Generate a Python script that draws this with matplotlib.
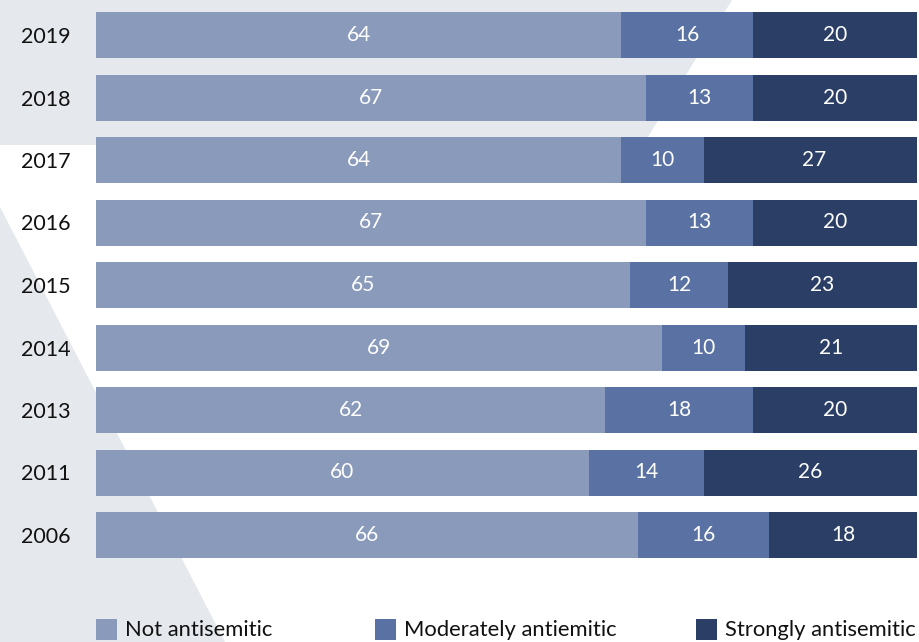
import matplotlib
matplotlib.use("Agg")
import matplotlib.pyplot as plt
from matplotlib.patches import Polygon, Rectangle
import numpy as np

plt.rcParams['font.family'] = ['Lato', 'DejaVu Sans']

years = ['2019', '2018', '2017', '2016', '2015', '2014', '2013', '2011', '2006']
not_anti = [64, 67, 64, 67, 65, 69, 62, 60, 66]
moderate = [16, 13, 10, 13, 12, 10, 18, 14, 16]
strong = [20, 20, 27, 20, 23, 21, 20, 26, 18]

labels = ['Not antisemitic', 'Moderately antiemitic', 'Strongly antisemitic']
colors = ['#8A9ABB', '#5A72A3', '#2B3F66']
bg_gray = '#E5E9ED'

W, H = 919, 642
fig = plt.figure(figsize=(W / 100, H / 100), dpi=100)
fig.patch.set_facecolor('white')


def px(x, y):
    # pixel coords from the top-left corner -> figure fraction
    return (x / W, 1 - y / H)


# light grey decorative shapes behind the chart
band = Polygon([px(0, 0), px(732, 0), px(643, 145), px(0, 145)],
               closed=True, transform=fig.transFigure, facecolor=bg_gray,
               edgecolor='none', zorder=-2)
wedge = Polygon([px(0, 207), px(225, 642), px(0, 642)],
                closed=True, transform=fig.transFigure, facecolor=bg_gray,
                edgecolor='none', zorder=-2)
fig.patches.extend([band, wedge])

# axes: bars span x 96..917 px, y 12..558 px
ax = fig.add_axes([96 / W, (H - 558) / H, 821 / W, 546 / H])
ax.set_facecolor('none')

bh = 46 / 62.5
y = np.arange(len(years))
series = [not_anti, moderate, strong]
left = np.zeros(len(years))
for vals, col in zip(series, colors):
    vals = np.array(vals)
    ax.barh(y, vals, left=left, height=bh, color=col, edgecolor='none')
    for yi, l, v in zip(y, left, vals):
        ax.text(l + v / 2, yi, str(v), ha='center', va='center',
                color='white', fontsize=15)
    left = left + vals

ax.set_xlim(0, 100)
ax.set_ylim(len(years) - 1 + bh / 2, -bh / 2)
ax.set_yticks(y)
ax.set_yticklabels(years, fontsize=15.5, color='#111111')
ax.tick_params(axis='y', length=0, pad=18)
ax.set_xticks([])
for s in ax.spines.values():
    s.set_visible(False)

# legend
sq_x = [96, 375, 696]
for x0, lab, col in zip(sq_x, labels, colors):
    fig.patches.append(Rectangle(px(x0, 640), 21 / W, 21 / H,
                                 transform=fig.transFigure, facecolor=col,
                                 edgecolor='none'))
    fig.text((x0 + 29) / W, 1 - 630 / H, lab, ha='left', va='center',
             fontsize=15.8, color='#111111')

fig.savefig('out.png', dpi=100)
